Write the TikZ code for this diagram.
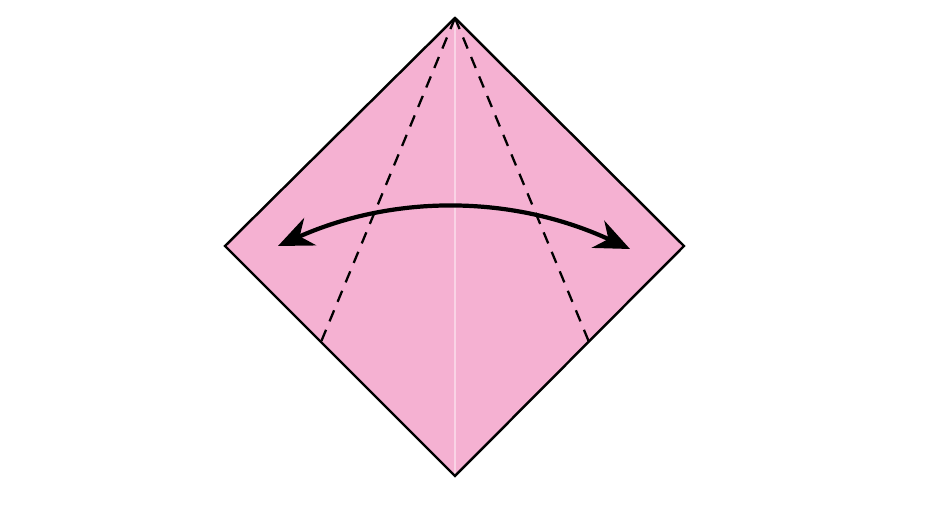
\documentclass[tikz,border=0pt]{standalone}
\usetikzlibrary{arrows.meta}
\definecolor{paper}{HTML}{F5B1D2}
\definecolor{crease}{HTML}{F9D3E5}
\begin{document}
\begin{tikzpicture}[x=1cm,y=1cm]
\useasboundingbox (0,0) rectangle (9.4,-5.29);
\coordinate (top) at (4.55,-0.18);
\coordinate (left) at (2.25,-2.46);
\coordinate (right) at (6.84,-2.46);
\coordinate (bot) at (4.55,-4.76);
\fill[paper] (top) -- (right) -- (bot) -- (left) -- cycle;
\draw[crease,line width=0.5pt] (top) -- (bot);
\draw[dash pattern=on 3.4pt off 2.6pt,line width=0.65pt] (top) -- (3.21,-3.42);
\draw[dash pattern=on 3.4pt off 2.6pt,line width=0.65pt] (top) -- (5.89,-3.42);
\draw[line width=0.7pt,line join=miter] (top) -- (right) -- (bot) -- (left) -- cycle;
% valley fold arrow
\coordinate (a) at (2.78,-2.46);
\coordinate (b) at (6.30,-2.49);
\draw[line width=1.2pt,{Stealth[length=10pt,width=8.5pt]}-{Stealth[length=10pt,width=8.5pt]}]
  (a) .. controls (3.95,-1.94) and (5.13,-1.95) .. (b);
\end{tikzpicture}
\end{document}
